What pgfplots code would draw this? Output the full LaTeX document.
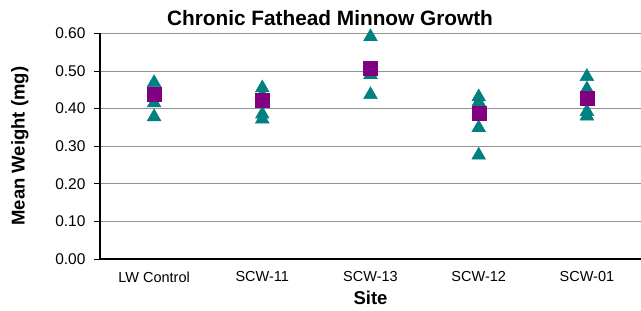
\documentclass[border=0pt]{standalone}
\usepackage{fontspec}
\setmainfont{Liberation Sans}
\usepackage{pgfplots}
\pgfplotsset{compat=1.18}
\definecolor{mteal}{RGB}{0,128,128}
\definecolor{mpurple}{RGB}{128,0,128}
\begin{document}
\begin{tikzpicture}
\begin{axis}[
  scale only axis, width=541pt, height=225.6pt,
  xmin=-0.5, xmax=4.5, ymin=0, ymax=0.6,
  axis x line*=bottom, axis y line*=left,
  x axis line style={black, line width=1.2pt, -},
  y axis line style={black, line width=1.5pt, -},
  xtick={0,1,2,3,4},
  xticklabels={LW Control, SCW-11, SCW-13, SCW-12, SCW-01},
  x tick style={draw=none},
  ytick={0,0.1,0.2,0.3,0.4,0.5,0.6},
  y tick style={black, line width=0.8pt},
  tick align=outside, major tick length=6pt,
  /pgf/number format/assume math mode=true,
  yticklabel style={/pgf/number format/fixed, /pgf/number format/fixed zerofill, /pgf/number format/precision=2},
  y tick label style={font=\fontsize{15.5}{17}\selectfont, xshift=-5pt},
  x tick label style={font=\fontsize{14.5}{16}\selectfont, yshift=-3pt},
  ymajorgrids, grid style={draw=gray!85, line width=0.9pt},
  xlabel={\textbf{Site}}, xlabel style={font=\fontsize{18.5}{20}\selectfont, yshift=-2pt},
  ylabel={\textbf{Mean Weight (mg)}}, ylabel style={font=\fontsize{18.5}{20}\selectfont, yshift=20pt},
  clip=false,
]
\addplot[only marks, mark=triangle*, mark size=8pt, mteal, mark options={draw=mteal, fill=mteal}] coordinates {
  (0,0.469) (0,0.415) (0,0.378)
  (1,0.455) (1,0.435) (1,0.385) (1,0.372)
  (2,0.591) (2,0.490) (2,0.437)
  (3,0.431) (3,0.417) (3,0.349) (3,0.276)
  (4,0.485) (4,0.452) (4,0.392) (4,0.380)
};
\addplot[only marks, mark=square*, mark size=7pt, mpurple, mark options={draw=mpurple, fill=mpurple}] coordinates {
  (0,0.438) (1,0.421) (2,0.507) (3,0.387) (4,0.428)
};
\end{axis}
\node[anchor=base, font=\fontsize{20.8}{23}\selectfont\bfseries] at ([xshift=230pt, yshift=7.8pt]current axis.north west) {Chronic Fathead Minnow Growth};
\pgfresetboundingbox
\path ([shift={(-100pt,-52pt)}]current axis.south west) rectangle ([shift={(0pt,33.4pt)}]current axis.north east);
\end{tikzpicture}
\end{document}
